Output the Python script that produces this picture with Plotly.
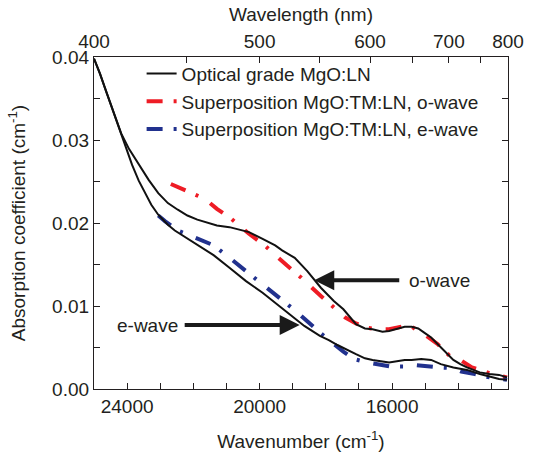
import plotly.graph_objects as go

# ---- data ----
# measured spectrum, o-wave (upper black curve)
wn_meas_o = [25000, 24820, 24620, 24380, 24180, 23940, 23650, 23350, 23060, 22770, 22470,
             22180, 21880, 21590, 21290, 20910, 20620, 20320, 19910, 19530, 19320, 18940,
             18560, 18150, 17760, 17470, 17090, 16820, 16590, 16290, 16090, 15850, 15620,
             15410, 15210, 15030, 14820, 14620, 14440, 14150, 13940, 13740, 13350, 13060,
             12770, 12530]
abs_meas_o = [0.0398, 0.0380, 0.0357, 0.0331, 0.0308, 0.0289, 0.0270, 0.0252, 0.0236, 0.0224,
              0.0216, 0.0209, 0.0204, 0.0201, 0.0197, 0.0195, 0.0192, 0.0189, 0.0181, 0.0173,
              0.0167, 0.0158, 0.0142, 0.0122, 0.0106, 0.0096, 0.0078, 0.0073, 0.0072, 0.0069,
              0.0070, 0.0073, 0.0075, 0.0075, 0.0073, 0.0068, 0.0062, 0.0054, 0.0047, 0.0035,
              0.0030, 0.0026, 0.0020, 0.0018, 0.0017, 0.0014]

# measured spectrum, e-wave (lower black curve)
wn_meas_e = [25000, 24820, 24620, 24380, 24150, 23850, 23650, 23440, 23270, 23060, 22770,
             22560, 22180, 21880, 21380, 20910, 20410, 19910, 19440, 19030, 18650, 18180,
             17910, 17650, 17410, 17090, 16820, 16590, 16090, 15620, 15410, 15120, 14820,
             14530, 14150, 13740, 13350, 12970, 12770, 12530]
abs_meas_e = [0.0398, 0.0380, 0.0357, 0.0330, 0.0302, 0.0270, 0.0251, 0.0235, 0.0222, 0.0210,
              0.0198, 0.0191, 0.0181, 0.0174, 0.0161, 0.0146, 0.0130, 0.0116, 0.0101, 0.0088,
              0.0076, 0.0064, 0.0059, 0.0053, 0.0048, 0.0042, 0.0037, 0.0035, 0.0032, 0.0035,
              0.0035, 0.0036, 0.0035, 0.0030, 0.0026, 0.0023, 0.0018, 0.0014, 0.0012, 0.0011]

# superposition MgO:TM:LN, o-wave (red)
wn_sup_o = [22680, 21650, 21290, 20850, 20320, 19820, 19180, 18740, 18150, 17760, 17410,
            17090, 16790, 16440, 16090, 15710, 15410, 15030, 14620, 14240, 13940, 13590,
            13210, 12970, 12530]
abs_sup_o = [0.0247, 0.0229, 0.0217, 0.0205, 0.0187, 0.0172, 0.0149, 0.0134, 0.0112, 0.0098,
             0.0086, 0.0079, 0.0074, 0.0072, 0.0072, 0.0075, 0.0075, 0.0066, 0.0054, 0.0039,
             0.0035, 0.0026, 0.0021, 0.0018, 0.0014]

# superposition MgO:TM:LN, e-wave (blue)
wn_sup_e = [23060, 22850, 22470, 22090, 21380, 21000, 20350, 19910, 19290, 18880, 18180,
            17820, 17470, 17150, 16740, 16030, 15650, 15350, 14970, 14590, 14150, 13910,
            13500, 13060, 12530]
abs_sup_e = [0.0209, 0.0202, 0.0191, 0.0185, 0.0173, 0.0161, 0.0140, 0.0125, 0.0106, 0.0093,
             0.0068, 0.0056, 0.0045, 0.0036, 0.0032, 0.0027, 0.0027, 0.0029, 0.0027, 0.0026,
             0.0025, 0.0021, 0.0018, 0.0014, 0.0011]

# axes
wn_tick_vals = [24000, 20000, 16000]
wn_tick_text = ["24000", "20000", "16000"]
wn_minor_vals = [23000, 22000, 21000, 19000, 18000, 17000, 15000, 14000, 13000]
nm_tick_vals = [400, 500, 600, 700, 800]
nm_tick_text = ["400", "500", "600", "700", "800"]
nm_minor_vals = [450, 550, 650, 750]
y_tick_vals = [0.0, 0.01, 0.02, 0.03, 0.04]
y_tick_text = ["0.00", "0.01", "0.02", "0.03", "0.04"]
y_minor_vals = [0.005, 0.015, 0.025, 0.035]
wn_range = [25000, 12500]
y_range = [0.0, 0.04]

FONT = "Liberation Sans, Arial, sans-serif"
TXT = "#231f20"
RED = "#ee1c25"
BLUE = "#21318e"
DASH = "16px,11px,3px,14px"

fig = go.Figure()
fig.add_trace(go.Scatter(x=wn_sup_o, y=abs_sup_o, mode="lines", name="Superposition MgO:TM:LN, o-wave",
                         line=dict(color=RED, width=4, dash=DASH), legendrank=2))
fig.add_trace(go.Scatter(x=wn_sup_e, y=abs_sup_e, mode="lines", name="Superposition MgO:TM:LN, e-wave",
                         line=dict(color=BLUE, width=4, dash=DASH), legendrank=3))
fig.add_trace(go.Scatter(x=wn_meas_o, y=abs_meas_o, mode="lines", name="Optical grade MgO:LN",
                         line=dict(color="#111111", width=2), legendrank=1))
fig.add_trace(go.Scatter(x=wn_meas_e, y=abs_meas_e, mode="lines", name="Optical grade MgO:LN e",
                         line=dict(color="#111111", width=2), showlegend=False))
# invisible trace to activate the top (wavelength) axis
fig.add_trace(go.Scatter(x=[1e7 / v for v in nm_tick_vals], y=[None] * len(nm_tick_vals),
                         xaxis="x2", mode="lines", showlegend=False, hoverinfo="skip"))

def axis_style(minor_vals):
    return dict(showline=True, linecolor=TXT, linewidth=1.3, ticks="inside", ticklen=6,
                tickwidth=1.3, tickcolor=TXT, showgrid=False, zeroline=False,
                tickfont=dict(family=FONT, size=19, color=TXT),
                minor=dict(tickmode="array", tickvals=minor_vals, ticks="inside", ticklen=6,
                           tickwidth=1.3, tickcolor=TXT, showgrid=False))

fig.update_layout(
    width=536, height=460,
    margin=dict(l=94, r=17, t=57, b=68),
    paper_bgcolor="white", plot_bgcolor="white",
    font=dict(family=FONT, size=19, color=TXT),
    xaxis=dict(range=wn_range, tickmode="array", tickvals=wn_tick_vals, ticktext=wn_tick_text,
               mirror=True, title=dict(text="Wavenumber (cm<sup>-1</sup>)", standoff=18,
                                       font=dict(family=FONT, size=19, color=TXT)),
               **axis_style(wn_minor_vals)),
    xaxis2=dict(range=wn_range, overlaying="x", side="top", tickmode="array",
                tickvals=[1e7 / v for v in nm_tick_vals], ticktext=nm_tick_text,
                title=dict(text="Wavelength (nm)", standoff=4,
                           font=dict(family=FONT, size=19, color=TXT)),
                **axis_style([1e7 / v for v in nm_minor_vals])),
    yaxis=dict(range=y_range, tickmode="array", tickvals=y_tick_vals, ticktext=y_tick_text,
               mirror="ticks", title=dict(text="Absorption coefficient (cm<sup>-1</sup>)", standoff=21,
                                          font=dict(family=FONT, size=19, color=TXT)),
               **axis_style(y_minor_vals)),
    legend=dict(x=0.115, y=1.007, xanchor="left", yanchor="top", bgcolor="rgba(0,0,0,0)",
                font=dict(family=FONT, size=19, color=TXT), tracegroupgap=0),
    showlegend=True,
)

# arrows with their labels (text box padded so the shaft stops short of the word)
fig.add_annotation(x=18350, y=0.0131, ax=125, ay=0, text="o-wave", showarrow=True,
                   arrowhead=2, arrowsize=1, arrowwidth=4, arrowcolor="#1a1a1a", standoff=0,
                   borderpad=9, font=dict(family=FONT, size=19, color=TXT))
fig.add_annotation(x=18790, y=0.0077, ax=-152, ay=0, text="e-wave", showarrow=True,
                   arrowhead=2, arrowsize=1, arrowwidth=4, arrowcolor="#1a1a1a", standoff=0,
                   borderpad=6, font=dict(family=FONT, size=19, color=TXT))

fig.write_html("out.html")
